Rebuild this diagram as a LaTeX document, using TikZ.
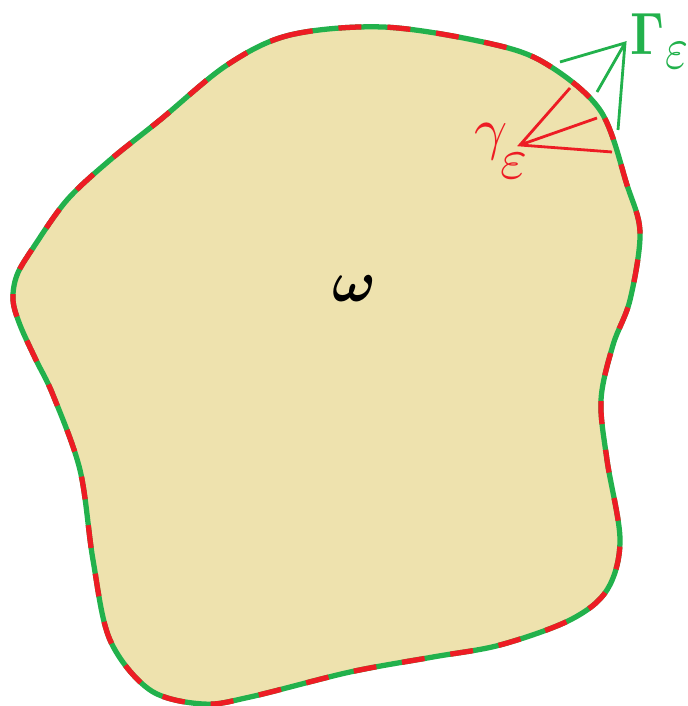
\documentclass[tikz,border=0pt]{standalone}
\usepackage{amsmath}
\usepackage{amssymb}
\usepackage{bm}
\usetikzlibrary{positioning}

\definecolor{sand}{RGB}{238,226,174}
\definecolor{bdgreen}{RGB}{34,177,76}
\definecolor{bdred}{RGB}{237,28,36}

\begin{document}
\begin{tikzpicture}[
    x=0.02cm,
    y=-0.02cm,
    boundary/.style={
        line width=3pt,
        line join=round
    },
    pointer/.style={
        line width=1.6pt
    },
    lbl/.style={
        inner sep=0pt,
        scale=3.3
    }
]

\useasboundingbox (0,0) rectangle (687,706);

% region
\path[boundary, fill=sand, draw=bdgreen,
      postaction={draw=bdred, boundary, dash pattern=on 0.46cm off 0.52cm}]
    plot[smooth cycle, tension=0.55] coordinates {
        (227,65) (290,35) (383,27) (483,42) (543,62) (600,110)
        (627,185) (640,233) (630,300) (613,345) (601,400) (607,460)
        (620,540) (607,590) (570,620) (500,645) (433,657) (350,672)
        (250,697) (203,704) (150,690) (110,640) (93,560) (80,470)
        (53,395) (36,360) (20,325) (13,300) (17,275) (33,248)
        (67,200) (110,160) (160,120)
    };

\node[lbl] (om) at (354,289) {$\bm{\omega}$};

% pointers
\coordinate (G) at (625,43);
\coordinate (G1) at (560,62);
\coordinate (G2) at (597,92);
\coordinate (G3) at (618,130);

\coordinate (g) at (520,145);
\coordinate (g1) at (570,88);
\coordinate (g2) at (597,118);
\coordinate (g3) at (612,152);

\draw[pointer, bdgreen] (G1) -- (G) -- (G3) (G) -- (G2);
\draw[pointer, bdred] (g1) -- (g) -- (g3) (g) -- (g2);

% labels
\node[lbl, xscale=0.85, yscale=1.03, anchor=base west, text=bdgreen] (Gam) at (630,55)
    {$\mathbf{\Gamma}\lower2.2pt\hbox{$\varepsilon$}$};
\node[lbl, anchor=base west, text=bdred] (gam) at (473,148)
    {$\gamma\mkern-2mu\lower5.2pt\hbox{$\varepsilon$}$};

\end{tikzpicture}
\end{document}
